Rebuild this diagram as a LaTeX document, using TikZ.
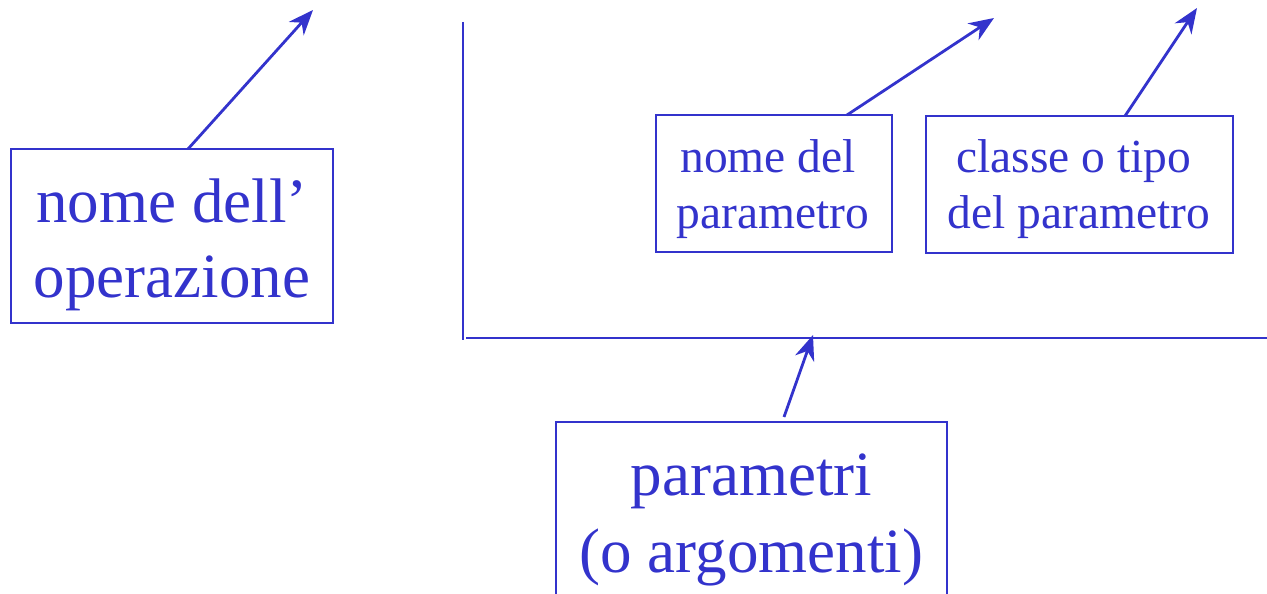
\documentclass[tikz,border=0pt]{standalone}
\usepackage{fontspec}
\setmainfont{Liberation Serif}
\usetikzlibrary{arrows.meta}
\definecolor{ink}{RGB}{51,51,204}
\tikzset{
  box/.style={draw=ink, line width=2.8pt, inner sep=0pt, outer sep=0pt},
  big/.style={text=ink, font=\fontsize{63}{75}\selectfont, anchor=base, inner sep=0pt},
  small/.style={text=ink, font=\fontsize{47.5}{56}\selectfont, anchor=base, inner sep=0pt},
  pointer/.style={draw=ink, line width=2.8pt, -{Stealth[length=25pt, width=20pt, inset=8pt]}},
  axis/.style={draw=ink, line width=2.8pt}
}
\begin{document}
\begin{tikzpicture}[x=1pt, y=-1pt]
\useasboundingbox (0,0) rectangle (1267,594);
\clip (0,0) rectangle (1267,594);
% boxes
\node (op) [box, minimum width=322pt, minimum height=174pt] at (172,236) {};
\node (pn) [box, minimum width=236pt, minimum height=137pt] at (774,183.5) {};
\node (pt) [box, minimum width=307pt, minimum height=137pt] at (1079.5,184.5) {};
\node (pa) [box, minimum width=391pt, minimum height=200pt] at (751.5,522) {};
% texts
\node (op1) [big] at (172,222) {nome dell’};
\node (op2) [big] at (172,297) {operazione};
\node (pn1) [small] at (768,172) {nome del};
\node (pn2) [small] at (773,228) {parametro};
\node (pt1) [small] at (1074,172) {classe o tipo};
\node (pt2) [small] at (1079,228) {del parametro};
\node (pa1) [big] at (751.5,495) {parametri};
\node (pa2) [big] at (751.5,572) {(o argomenti)};
% axes
\coordinate (vtop) at (463,22);
\coordinate (corner) at (463,340);
\coordinate (hstart) at (466,338);
\coordinate (hend) at (1267,338);
\draw[axis] (vtop) -- (corner);
\draw[axis] (hstart) -- (hend);
% arrows
\coordinate (s1) at (188,149);
\coordinate (e1) at (313,10);
\coordinate (s2) at (847,115);
\coordinate (e2) at (994,18);
\coordinate (s3) at (1125,116);
\coordinate (e3) at (1197,8);
\coordinate (s4) at (784,417);
\coordinate (e4) at (813,335);
\draw[pointer] (s1) -- (e1);
\draw[pointer] (s2) -- (e2);
\draw[pointer] (s3) -- (e3);
\draw[pointer] (s4) -- (e4);
\end{tikzpicture}
\end{document}
